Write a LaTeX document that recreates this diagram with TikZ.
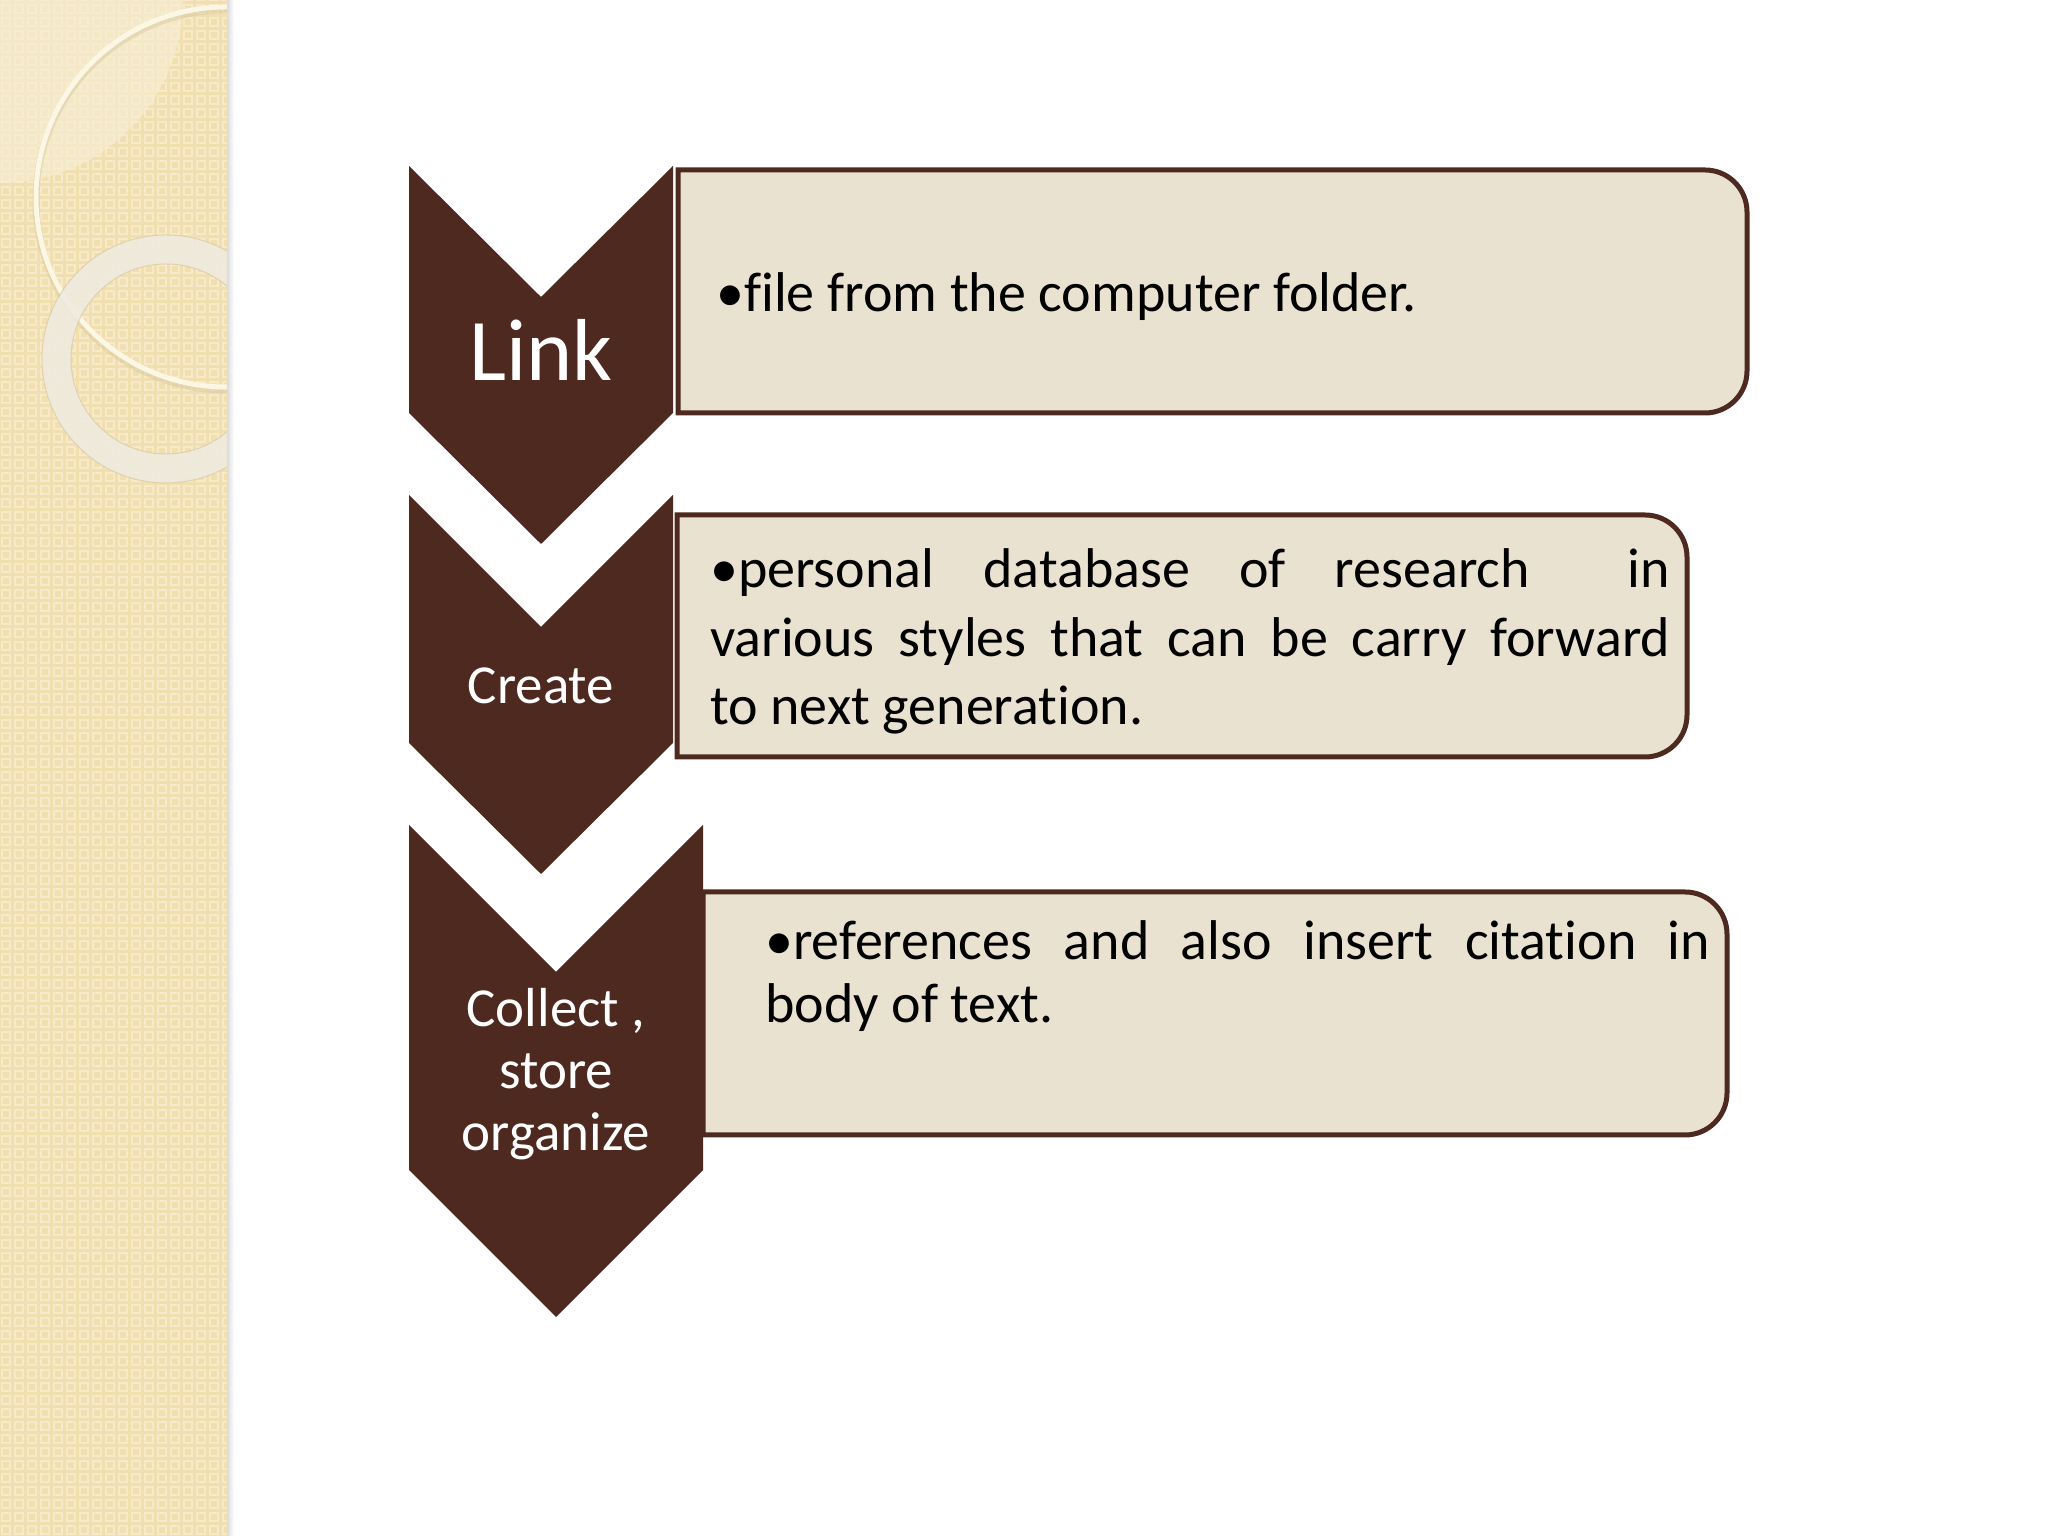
\documentclass[tikz,border=0pt]{standalone}
\usepackage{fontspec}
\setmainfont{Carlito}[Ligatures=NoCommon]
\definecolor{chev}{HTML}{4E2920}
\definecolor{boxfill}{HTML}{EAE2D0}
\definecolor{panel}{HTML}{F1DFB0}
\definecolor{panellight}{HTML}{F6EACA}
\definecolor{panelpale}{HTML}{F7EED6}
\definecolor{ringthin}{HTML}{FCF6E4}
\definecolor{ringshadow}{HTML}{D9C9A0}
\definecolor{ringthick}{HTML}{EEEBE1}
\begin{document}
\begin{tikzpicture}[x=1pt,y=1pt,
  chevron/.style={fill=chev, draw=none},
  chevlabel/.style={text=white, inner sep=0pt, align=center, font=\fontsize{55}{62}\selectfont},
  boxtext/.style={text=black, inner sep=0pt, anchor=base west, font=\fontsize{56}{68.5}\selectfont},
  boxline/.style={draw=chev, line width=5pt, fill=boxfill}]
\useasboundingbox (0,0) rectangle (2048,1536);
\fill[white] (0,0) rectangle (2048,1536);
% ---- decorative left panel ----
\begin{scope}
  \clip (0,0) rectangle (227,1536);
  \fill[panel] (0,0) rectangle (227,1536);
  \draw[panellight, line width=1.6pt]
    \foreach \i in {0,...,17}{\foreach \j in {0,...,118}{(\i*13+2,\j*13+2) rectangle ++(8,8)}};
  \fill[panelpale, opacity=0.6] (0,1536) -- (183,1536) arc[start angle=0,end angle=-90,radius=183] -- cycle;
  \draw[ringshadow, line width=7pt, opacity=0.5] (226,1336) circle[radius=190];
  \draw[ringthin, line width=5pt] (226,1339) circle[radius=190];
  \draw[ringthick, line width=29pt, opacity=0.85] (166,1177) circle[radius=109.5];
  \draw[ringshadow, line width=1pt, opacity=0.7] (166,1177) circle[radius=124];
  \draw[ringshadow, line width=1pt, opacity=0.7] (166,1177) circle[radius=95];
\end{scope}
\shade[left color=black!14, right color=white] (227,0) rectangle (234,1536);
% ---- text boxes ----
\draw[boxline] (678,1366) -- (1705,1366) arc[start angle=90,end angle=0,radius=42]
  -- (1747,1165) arc[start angle=0,end angle=-90,radius=42] -- (678,1123) -- cycle;
\draw[boxline] (677,1021) -- (1645,1021) arc[start angle=90,end angle=0,radius=42]
  -- (1687,821) arc[start angle=0,end angle=-90,radius=42] -- (677,779) -- cycle;
\draw[boxline] (703,644) -- (1685,644) arc[start angle=90,end angle=0,radius=42]
  -- (1727,443) arc[start angle=0,end angle=-90,radius=42] -- (703,401) -- cycle;
% ---- chevrons ----
\fill[chevron] (409,1370) -- (541,1239) -- (673,1370) -- (673,1123) -- (541,992) -- (409,1123) -- cycle;
\fill[chevron] (409,1041) -- (541,909) -- (673,1041) -- (673,793) -- (541,662) -- (409,793) -- cycle;
\fill[chevron] (409,711) -- (556,564) -- (703,711) -- (703,366) -- (556,219) -- (409,366) -- cycle;
% ---- chevron labels ----
\node[chevlabel, font=\fontsize{88}{100}\selectfont, anchor=base] (l1) at (541,1155) {Link};
\node[chevlabel, anchor=base] (l2) at (541,832) {Create};
\node[chevlabel] (l3) at (556,462) {Collect ,\\store\\organize};
% ---- box texts ----
\node[boxtext] (t1) at (716,1224) {•file from the computer folder.};
\node[boxtext] (t2) at (710,948) {\vtop{\baselineskip=68.5pt
  \hbox{\makebox[960pt][s]{•personal database of research\ \ in}}
  \hbox{\makebox[960pt][s]{various styles that can be carry forward}}
  \hbox{to next generation.}}};
\node[boxtext] (t3) at (765,576) {\vtop{\baselineskip=63pt
  \hbox{\makebox[945pt][s]{•references and also insert citation in}}
  \hbox{body of text.}}};
\end{tikzpicture}
\end{document}
